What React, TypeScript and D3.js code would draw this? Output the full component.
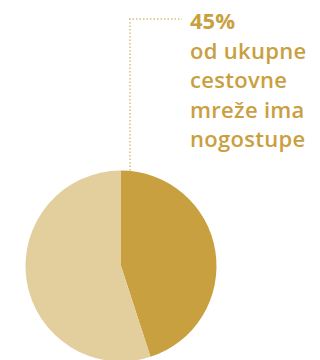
import React from "react";
import * as d3 from "d3";

const categories = ["s nogostupom", "bez nogostupa"];
const values = [45, 55];
const labelValue = "45%";
const labelLines = ["od ukupne", "cestovne", "mreže ima", "nogostupe"];
const colors = ["#C9A03F", "#E3CF9E"];

export default function App() {
  const W = 320, H = 360;
  const cx = 121, cy = 266, r = 95.5;
  const pie = d3.pie<number>().sort(null).value((d) => d)(values);
  const arc = d3.arc<d3.PieArcDatum<number>>().innerRadius(0).outerRadius(r);
  const textColor = "#C9A03F";
  const lineX = 130, lineY = 19;
  return (
    <svg width={W} height={H} style={{ position: "absolute", left: 0, top: 0, background: "#fff" }}
      fontFamily="'Open Sans', sans-serif">
      <g transform={`translate(${cx},${cy})`}>
        {pie.map((p, i) => (
          <path key={categories[i]} d={arc(p) || ""} fill={colors[i]} />
        ))}
      </g>
      <path d={`M${lineX},${cy - r} V${lineY} H182`} fill="none" stroke="#E3CF9E"
        strokeWidth={2} strokeDasharray="1.5,2" />
      <text x={190} y={28.5} fill={textColor} fontSize={22} fontWeight={700}>{labelValue}</text>
      {labelLines.map((l, i) => (
        <text key={l} x={190} y={59 + i * 29.3} fill={textColor} fontSize={22} fontWeight={600}
          letterSpacing={0.3}>{l}</text>
      ))}
    </svg>
  );
}
